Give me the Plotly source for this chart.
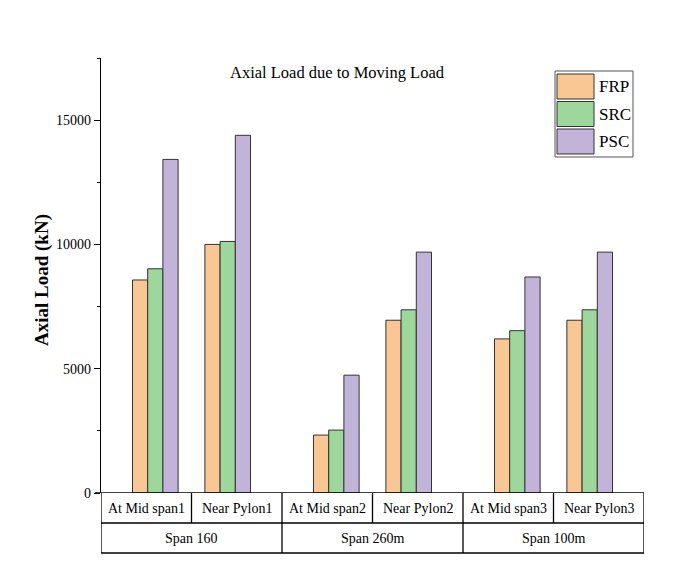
import plotly.graph_objects as go

# ---- data ----
categories = ["At Mid span1", "Near Pylon1", "At Mid span2", "Near Pylon2", "At Mid span3", "Near Pylon3"]
spans = ["Span 160", "Span 260m", "Span 100m"]
series_names = ["FRP", "SRC", "PSC"]
frp = [8570, 10000, 2330, 6950, 6200, 6950]
src = [9020, 10120, 2530, 7370, 6530, 7370]
psc = [13420, 14390, 4740, 9690, 8690, 9690]
y_ticks = [0, 5000, 10000, 15000]
y_tick_labels = ["0", "5000", "10000", "15000"]

colors = ["#F9C794", "#9DD79B", "#C2B3D9"]
edge = "#333333"
FONT = "Liberation Serif"

# cluster positions: within each span the two clusters are pulled toward each other
x_pos = [i + (0.1 if i % 2 == 0 else -0.1) for i in range(len(categories))]

fig = go.Figure()
for name, vals, col in zip(series_names, [frp, src, psc], colors):
    fig.add_trace(go.Bar(
        x=x_pos, y=vals, name=name,
        marker=dict(color=col, line=dict(color=edge, width=1)),
        showlegend=False,
    ))

OFF = 8  # page body margin
W, H = 677 - OFF, 584 - OFF
L, T = 101 - OFF, 58 - OFF
R = W - (644 - OFF)
B = H - (493 - OFF)
pw, ph = W - L - R, H - T - B

def px_x(p):
    return (p - OFF - L) / pw

def px_y(p):
    return (H - B - (p - OFF)) / ph

shapes = []
annotations = []

# category table below axis
row1 = px_y(523)
row2 = px_y(553)
n = len(categories)
line = dict(color="black", width=1.3)
for yy in [row1, row2]:
    shapes.append(dict(type="line", xref="x", yref="paper", x0=-0.5, x1=n - 0.5, y0=yy, y1=yy, line=line))
for i in range(n + 1):
    shapes.append(dict(type="line", xref="x", yref="paper", x0=i - 0.5, x1=i - 0.5, y0=0, y1=row1, line=line))
for s in range(len(spans) + 1):
    xb = 2 * s - 0.5
    shapes.append(dict(type="line", xref="x", yref="paper", x0=xb, x1=xb, y0=row1, y1=row2, line=line))

for i, c in enumerate(categories):
    annotations.append(dict(x=i, y=row1 / 2, xref="x", yref="paper", text=c, showarrow=False,
                            font=dict(family=FONT, size=14, color="black"), xanchor="center", yanchor="middle"))
for s, sp in enumerate(spans):
    annotations.append(dict(x=2 * s + 0.5, y=(row1 + row2) / 2, xref="x", yref="paper", text=sp, showarrow=False,
                            font=dict(family=FONT, size=14, color="black"), xanchor="center", yanchor="middle"))

# y axis title
annotations.append(dict(x=px_x(42), y=px_y(280), xref="paper", yref="paper", text="<b>Axial Load (kN)</b>",
                        textangle=-90, showarrow=False, font=dict(family=FONT, size=19, color="black"),
                        xanchor="center", yanchor="middle"))

# custom legend
lx0, lx1, ly0, ly1 = 555, 633, 71, 157
shapes.append(dict(type="rect", xref="paper", yref="paper", x0=px_x(lx0), x1=px_x(lx1), y0=px_y(ly1), y1=px_y(ly0),
                   line=dict(color="#555555", width=1), fillcolor="white"))
for k, (name, col) in enumerate(zip(series_names, colors)):
    top = 74 + k * 27.5
    shapes.append(dict(type="rect", xref="paper", yref="paper", x0=px_x(557), x1=px_x(594),
                       y0=px_y(top + 25), y1=px_y(top), line=dict(color=edge, width=1), fillcolor=col))
    annotations.append(dict(x=px_x(597), y=px_y(top + 12.5), xref="paper", yref="paper", text=name,
                            showarrow=False, font=dict(family=FONT, size=17, color="black"),
                            xanchor="left", yanchor="middle"))

# axis line at y=0 extending to the left tick
shapes.append(dict(type="line", xref="paper", yref="y", x0=px_x(95), x1=1, y0=0, y1=0, line=line))

fig.update_layout(
    width=W, height=H,
    margin=dict(l=L, r=R, t=T, b=B, pad=0),
    paper_bgcolor="white", plot_bgcolor="white",
    barmode="group", bargap=0.37, bargroupgap=0,
    title=dict(text="Axial Load due to Moving Load", x=(337 - OFF) / W, xref="container", xanchor="center",
               y=1 - (72 - OFF) / H, yref="container", yanchor="middle",
               font=dict(family=FONT, size=16.5, color="black")),
    shapes=shapes, annotations=annotations,
    xaxis=dict(range=[-0.5, n - 0.5], showticklabels=False, ticks="", showgrid=False, zeroline=False,
               showline=False, fixedrange=True),
    yaxis=dict(range=[0, 17500], tickvals=y_ticks, ticktext=y_tick_labels, ticks="outside", ticklen=6,
               tickwidth=1.3, tickcolor="black", showline=True, linecolor="black", linewidth=1.3,
               showgrid=False, zeroline=False, tickfont=dict(family=FONT, size=14, color="black"),
               minor=dict(dtick=2500, ticks="outside", ticklen=3, tickwidth=1.3, tickcolor="black",
                          showgrid=False)),
)

fig.write_html("out.html")
